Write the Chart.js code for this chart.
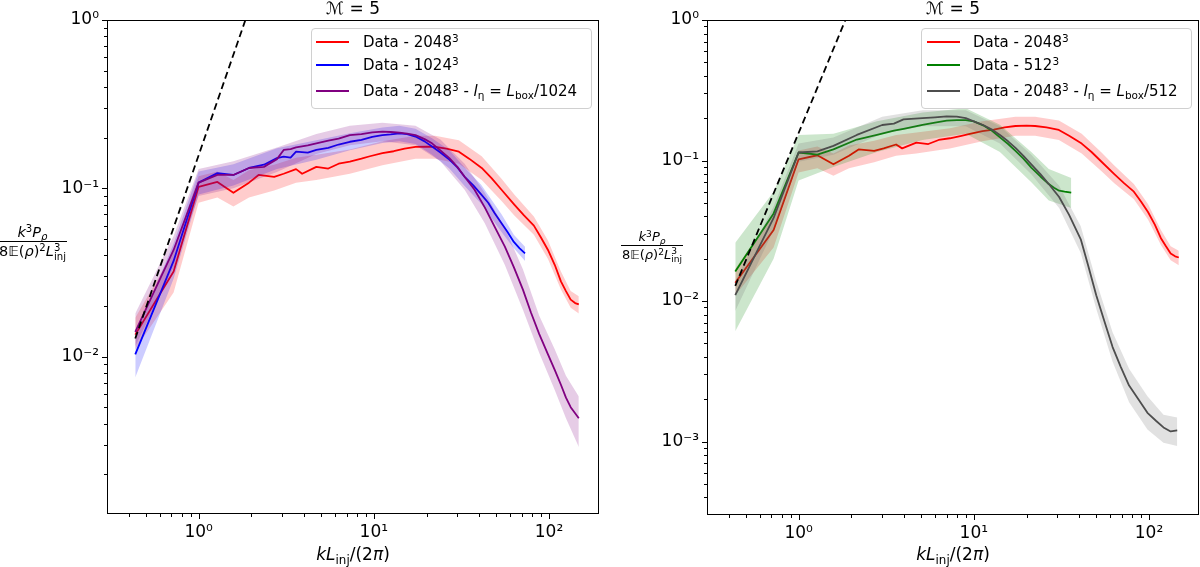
<!DOCTYPE html>
<html>
<head>
<meta charset="utf-8">
<title>Espectro de densidad - M = 5</title>
<script src="https://cdn.jsdelivr.net/npm/chart.js@4.4.1/dist/chart.umd.min.js"></script>
<style>
  html, body { margin: 0; padding: 0; background: #fff; }
  #wrap { position: relative; width: 1200px; height: 567px; overflow: hidden; font-family: 'DejaVu Sans', sans-serif; color: #000; }
  canvas { position: absolute; top: 0; }
  .t { position: absolute; white-space: nowrap; }
  sup, sub { font-size: 70%; line-height: 0; }
  sup { vertical-align: 0.45em; }
  sub { vertical-align: -0.3em; }
  .title { top: -2px; width: 492px; text-align: center; font-size: 17px; line-height: 20px; }
  .xlab { top: 544px; width: 492px; text-align: center; font-size: 17px; line-height: 20px; }
  .frac { position: absolute; display: flex; flex-direction: column; align-items: center; white-space: nowrap; }
  .frac .num { padding: 0 1px 1px; }
  .frac .den { border-top: 1px solid #000; padding: 1px 1px 0; }
  .ss { display: inline-block; font-size: 70%; line-height: 0.85; vertical-align: -0.35em; text-align: left; }
  .leg { position: absolute; top: 28px; height: 79px; border: 1px solid #d0d0d0; border-radius: 4px; background: rgba(255,255,255,0.8); font-size: 15px; }
  .leg .ln { position: absolute; width: 33px; height: 2px; }
  .leg .tx { position: absolute; left: 51px; height: 20px; line-height: 20px; white-space: nowrap; }
</style>
</head>
<body>
<div id="wrap">
  <canvas id="c1" width="600" height="567" style="left:0"></canvas>
  <canvas id="c2" width="600" height="567" style="left:600px"></canvas>

  <div class="t title" style="left:107px"><i>ℳ</i> = 5</div>
  <div class="t title" style="left:707px"><i>ℳ</i> = 5</div>

  <div class="t xlab" style="left:107px"><i>kL</i><sub>inj</sub>/(2<i>π</i>)</div>
  <div class="t xlab" style="left:707px"><i>kL</i><sub>inj</sub>/(2<i>π</i>)</div>

  <!-- etiqueta del eje y (fraccion) -->
  <div class="frac" style="left:-2px;top:224px;font-size:14.5px">
    <div class="num"><i>k</i><sup>3</sup><i>P</i><sub><i>ρ</i></sub></div>
    <div class="den">8𝔼(<i>ρ</i>)<sup>2</sup><i>L</i><span class="ss">3<br>inj</span></div>
  </div>
  <div class="frac" style="left:621px;top:229px;font-size:13px">
    <div class="num"><i>k</i><sup>3</sup><i>P</i><sub><i>ρ</i></sub></div>
    <div class="den">8𝔼(<i>ρ</i>)<sup>2</sup><i>L</i><span class="ss">3<br>inj</span></div>
  </div>

  <!-- leyendas -->
  <div class="leg" style="left:311px;width:279px">
    <div class="ln" style="left:4px;top:12px;background:#ff0000"></div>
    <div class="tx" style="top:3px">Data - 2048<sup>3</sup></div>
    <div class="ln" style="left:4px;top:35px;background:#0000ff"></div>
    <div class="tx" style="top:26px">Data - 1024<sup>3</sup></div>
    <div class="ln" style="left:4px;top:61px;background:#800080"></div>
    <div class="tx" style="top:52px">Data - 2048<sup>3</sup> - <i>l</i><sub>η</sub> = <i>L</i><sub>box</sub>/1024</div>
  </div>
  <div class="leg" style="left:921px;width:269px">
    <div class="ln" style="left:5px;top:12px;background:#ff0000"></div>
    <div class="tx" style="top:3px">Data - 2048<sup>3</sup></div>
    <div class="ln" style="left:5px;top:35px;background:#008000"></div>
    <div class="tx" style="top:26px">Data - 512<sup>3</sup></div>
    <div class="ln" style="left:5px;top:61px;background:#4d4d4d"></div>
    <div class="tx" style="top:52px">Data - 2048<sup>3</sup> - <i>l</i><sub>η</sub> = <i>L</i><sub>box</sub>/512</div>
  </div>
</div>

<script>
// Datos (k L_inj / 2pi  vs  espectro compensado)

// Data - 2048^3
const kRed = [0.435, 0.72, 1.0, 1.28, 1.58, 1.94, 2.2, 2.7, 3.06, 3.6, 3.9, 4.7, 5.5, 6.3, 7.3, 8.5, 9.5, 11.2, 13, 15, 17.3, 20, 22.4, 26, 30.6, 35, 41.3, 47, 53.6, 63.4, 72, 82, 90, 98.7, 108, 117, 125, 133, 141, 148];
const yRed = [0.0135, 0.032, 0.102, 0.109, 0.094, 0.108, 0.120, 0.117, 0.122, 0.130, 0.122, 0.134, 0.131, 0.140, 0.144, 0.150, 0.155, 0.162, 0.166, 0.172, 0.176, 0.177, 0.176, 0.172, 0.165, 0.150, 0.132, 0.115, 0.098, 0.080, 0.069, 0.060, 0.051, 0.043, 0.035, 0.028, 0.0245, 0.0218, 0.0208, 0.0204];
const kRedBand = [0.435, 0.72, 1.0, 1.28, 1.58, 1.94, 2.7, 3.6, 4.7, 7.3, 11.2, 17.3, 22.4, 30.6, 41.3, 53.6, 63.4, 82, 98.7, 117, 133, 148];
const loRed = [0.011, 0.024, 0.082, 0.088, 0.078, 0.088, 0.097, 0.108, 0.112, 0.122, 0.137, 0.150, 0.150, 0.140, 0.112, 0.084, 0.069, 0.053, 0.038, 0.025, 0.0195, 0.0180];
const hiRed = [0.017, 0.042, 0.118, 0.126, 0.112, 0.128, 0.138, 0.152, 0.158, 0.170, 0.190, 0.205, 0.205, 0.193, 0.155, 0.114, 0.092, 0.068, 0.049, 0.032, 0.0245, 0.0228];

// Data - 1024^3
const kBlue = [0.435, 0.72, 1.0, 1.28, 1.58, 1.94, 2.36, 2.8, 3.06, 3.35, 3.6, 4.2, 4.7, 5.5, 6.3, 7.3, 8.5, 9.8, 11.2, 12.5, 14, 15.5, 17.3, 19.5, 21.5, 24, 27, 30, 33, 37, 41, 45, 49, 53.6, 58, 63, 68, 73];
const yBlue = [0.0103, 0.037, 0.108, 0.123, 0.120, 0.132, 0.138, 0.151, 0.154, 0.152, 0.165, 0.163, 0.169, 0.174, 0.182, 0.189, 0.194, 0.202, 0.207, 0.209, 0.212, 0.210, 0.203, 0.190, 0.177, 0.163, 0.148, 0.133, 0.117, 0.104, 0.092, 0.082, 0.071, 0.062, 0.055, 0.048, 0.044, 0.041];
const kBlueBand = [0.435, 0.72, 1.0, 1.58, 2.8, 4.7, 7.3, 11.2, 14, 17.3, 21.5, 27, 33, 41, 53.6, 63, 73];
const loBlue = [0.0075, 0.029, 0.092, 0.104, 0.130, 0.148, 0.168, 0.186, 0.190, 0.183, 0.158, 0.131, 0.103, 0.081, 0.055, 0.044, 0.037];
const hiBlue = [0.0135, 0.047, 0.126, 0.139, 0.173, 0.193, 0.212, 0.230, 0.235, 0.226, 0.198, 0.168, 0.133, 0.105, 0.070, 0.053, 0.045];

// Data - 2048^3 - l_eta = L_box/1024
const kPurple = [0.435, 0.72, 1.0, 1.28, 1.58, 1.94, 2.36, 2.8, 3.06, 3.35, 3.6, 4.2, 4.7, 5.5, 6.3, 7.3, 8.5, 9.8, 11.2, 12.5, 14, 15.5, 17.3, 19.5, 21.5, 24, 27, 30, 33, 37.6, 43, 49, 56, 63, 71, 79, 88, 98.7, 108, 117, 125, 133, 141, 148];
const yPurple = [0.0140, 0.043, 0.108, 0.120, 0.120, 0.132, 0.134, 0.149, 0.169, 0.171, 0.175, 0.180, 0.185, 0.192, 0.197, 0.207, 0.210, 0.215, 0.217, 0.216, 0.214, 0.211, 0.207, 0.196, 0.185, 0.168, 0.151, 0.134, 0.117, 0.098, 0.077, 0.059, 0.045, 0.034, 0.025, 0.0182, 0.0136, 0.0103, 0.0083, 0.0068, 0.0057, 0.0050, 0.0046, 0.0043];
const kPurpleBand = [0.435, 0.72, 1.0, 1.58, 2.8, 4.7, 7.3, 11.2, 17.3, 24, 33, 43, 56, 71, 88, 108, 125, 148];
const loPurple = [0.0115, 0.034, 0.090, 0.100, 0.125, 0.160, 0.180, 0.190, 0.180, 0.145, 0.098, 0.062, 0.035, 0.019, 0.0105, 0.0063, 0.0043, 0.0029];
const hiPurple = [0.018, 0.052, 0.130, 0.145, 0.175, 0.210, 0.235, 0.245, 0.235, 0.195, 0.140, 0.094, 0.058, 0.033, 0.0175, 0.0110, 0.0077, 0.0058];

// Data - 512^3
const kGreen = [0.435, 0.72, 1.0, 1.28, 1.58, 2.15, 2.8, 3.5, 3.97, 5.1, 6.0, 7.0, 8.0, 9.0, 10, 11.3, 12.7, 14.1, 15.7, 17.3, 19.2, 21.3, 24, 26.8, 28.7, 30.7, 33, 36];
const yGreen = [0.0162, 0.042, 0.114, 0.110, 0.120, 0.141, 0.152, 0.163, 0.168, 0.179, 0.186, 0.192, 0.194, 0.194, 0.190, 0.178, 0.163, 0.146, 0.131, 0.117, 0.103, 0.089, 0.077, 0.068, 0.064, 0.061, 0.060, 0.059];
const kGreenBand = [0.435, 0.72, 1.0, 1.58, 2.8, 5.1, 9.0, 14.1, 21.3, 26.8, 36];
const loGreen = [0.0061, 0.020, 0.072, 0.090, 0.115, 0.140, 0.155, 0.115, 0.070, 0.052, 0.046];
const hiGreen = [0.026, 0.060, 0.152, 0.155, 0.190, 0.220, 0.235, 0.180, 0.115, 0.087, 0.075];

// Data - 2048^3 - l_eta = L_box/512
const kGrey = [0.435, 0.72, 1.0, 1.28, 1.58, 2.15, 3.0, 3.5, 3.97, 5.1, 6.0, 7.0, 8.0, 9.0, 10, 11.3, 12.7, 14.1, 15.7, 17.3, 19.2, 21.3, 24, 26.8, 30.7, 35, 40.8, 45, 50, 56, 62, 69, 77, 87, 98, 110, 121, 133, 145];
const yGrey = [0.0110, 0.039, 0.114, 0.116, 0.127, 0.152, 0.179, 0.183, 0.196, 0.200, 0.203, 0.206, 0.205, 0.200, 0.190, 0.179, 0.166, 0.152, 0.137, 0.123, 0.108, 0.094, 0.080, 0.068, 0.055, 0.041, 0.0275, 0.0178, 0.0110, 0.0070, 0.0047, 0.0034, 0.0025, 0.0020, 0.0016, 0.0014, 0.00126, 0.00118, 0.00120];
const kGreyBand = [0.435, 0.72, 1.0, 1.58, 3.0, 5.1, 9.0, 14.1, 21.3, 30.7, 40.8, 50, 62, 77, 98, 121, 145];
const loGrey = [0.0085, 0.032, 0.098, 0.110, 0.155, 0.175, 0.175, 0.132, 0.080, 0.046, 0.022, 0.0088, 0.0037, 0.0019, 0.00122, 0.00098, 0.00093];
const hiGrey = [0.014, 0.047, 0.132, 0.146, 0.205, 0.228, 0.228, 0.175, 0.110, 0.066, 0.034, 0.0138, 0.0060, 0.0033, 0.0021, 0.00155, 0.00148];

// recta de referencia (discontinua)
const kSlope = [0.435, 1.85];
const ySlope = [0.0128, 1.0];

// limites de los ejes
const xLim = [0.321, 193];
const yLimLeft = [0.00116, 1];
const yLimRight = [0.000346, 1];

// ---- helpers ----
const pts = (k, y) => k.map((x, i) => ({ x, y: y[i] }));
const SUP = { '-': '⁻', '0': '⁰', '1': '¹', '2': '²', '3': '³', '4': '⁴', '5': '⁵', '6': '⁶', '7': '⁷', '8': '⁸', '9': '⁹' };

function isDecade(v) {
  const e = Math.round(Math.log10(v));
  return Math.abs(v / Math.pow(10, e) - 1) < 1e-6;
}
function isNice(v) {
  const e = Math.floor(Math.log10(v) + 1e-9);
  const m = v / Math.pow(10, e);
  return Math.abs(m - Math.round(m)) < 1e-6;
}
function decLabel(v) {
  if (!isDecade(v)) return '';
  const e = Math.round(Math.log10(v));
  return '10' + String(e).split('').map((c) => SUP[c]).join('');
}

// marco completo + ticks mayores/menores estilo matplotlib
const framePlugin = {
  id: 'frame',
  afterDraw(chart) {
    const { ctx, chartArea: a, scales } = chart;
    ctx.save();
    ctx.strokeStyle = '#000';
    ctx.lineWidth = 1;
    const L = Math.round(a.left), T = Math.round(a.top), R = Math.round(a.right), B = Math.round(a.bottom);
    ctx.strokeRect(L + 0.5, T + 0.5, R - L - 1, B - T - 1);
    ctx.beginPath();
    scales.x.ticks.forEach((t) => {
      const p = Math.round(scales.x.getPixelForValue(t.value)) + 0.5;
      const len = isDecade(t.value) ? 5 : 3;
      ctx.moveTo(p, B);
      ctx.lineTo(p, B + len);
    });
    scales.y.ticks.forEach((t) => {
      const p = Math.round(scales.y.getPixelForValue(t.value)) + 0.5;
      const len = isDecade(t.value) ? 5 : 3;
      ctx.moveTo(L, p);
      ctx.lineTo(L - len, p);
    });
    ctx.stroke();
    ctx.restore();
  }
};

function logAxis(lim, pos, size) {
  return {
    type: 'logarithmic',
    position: pos,
    min: lim[0],
    max: lim[1],
    border: { display: false },
    grid: { display: true, drawOnChartArea: false, drawTicks: true, tickLength: 5, tickColor: 'rgba(0,0,0,0)' },
    ticks: {
      autoSkip: false,
      maxRotation: 0,
      padding: 3,
      color: '#000',
      font: { family: 'DejaVu Sans', size: 17 },
      callback: (v) => decLabel(v)
    },
    afterBuildTicks: (s) => {
      s.ticks = s.ticks.filter((t) => t.value >= lim[0] * 0.9999 && t.value <= lim[1] * 1.0001 && isNice(t.value));
    },
    afterFit: (s) => {
      if (pos === 'left') s.width = size; else s.height = size;
    }
  };
}

// banda (lo/hi) + linea central
function seriesSets(s) {
  return [
    { data: pts(s.kb, s.lo), borderWidth: 0, borderColor: 'rgba(0,0,0,0)', pointRadius: 0, fill: false },
    { data: pts(s.kb, s.hi), borderWidth: 0, borderColor: 'rgba(0,0,0,0)', pointRadius: 0, fill: '-1', backgroundColor: s.band },
    { data: pts(s.k, s.y), borderColor: s.color, borderWidth: 1.8, pointRadius: 0, fill: false, borderJoinStyle: 'round' }
  ];
}

function makePanel(id, series, yLim, xHeight) {
  const ds = [];
  series.forEach((s) => ds.push(...seriesSets(s)));
  ds.push({ data: pts(kSlope, ySlope), borderColor: '#000', borderWidth: 1.8, borderDash: [7, 4], pointRadius: 0, fill: false });
  // el primero queda abajo, el ultimo arriba
  ds.forEach((d, i) => { d.order = ds.length - i; d.tension = 0; });

  return new Chart(document.getElementById(id), {
    type: 'line',
    data: { datasets: ds },
    options: {
      responsive: false,
      animation: false,
      devicePixelRatio: 1,
      events: [],
      layout: { padding: { left: 0, right: 1, top: 20, bottom: 0 } },
      scales: {
        x: logAxis(xLim, 'bottom', xHeight),
        y: logAxis(yLim, 'left', 107)
      },
      plugins: { legend: { display: false }, tooltip: { enabled: false } }
    },
    plugins: [framePlugin]
  });
}

const red = { k: kRed, y: yRed, kb: kRedBand, lo: loRed, hi: hiRed, color: '#ff0000', band: 'rgba(255,0,0,0.2)' };
const blue = { k: kBlue, y: yBlue, kb: kBlueBand, lo: loBlue, hi: hiBlue, color: '#0000ff', band: 'rgba(0,0,255,0.2)' };
const purple = { k: kPurple, y: yPurple, kb: kPurpleBand, lo: loPurple, hi: hiPurple, color: '#800080', band: 'rgba(128,0,128,0.2)' };
const green = { k: kGreen, y: yGreen, kb: kGreenBand, lo: loGreen, hi: hiGreen, color: '#008000', band: 'rgba(0,128,0,0.2)' };
const grey = { k: kGrey, y: yGrey, kb: kGreyBand, lo: loGrey, hi: hiGrey, color: '#4d4d4d', band: 'rgba(105,105,105,0.2)' };

makePanel('c1', [red, blue, purple], yLimLeft, 53);
makePanel('c2', [red, green, grey], yLimRight, 52);
</script>
</body>
</html>
